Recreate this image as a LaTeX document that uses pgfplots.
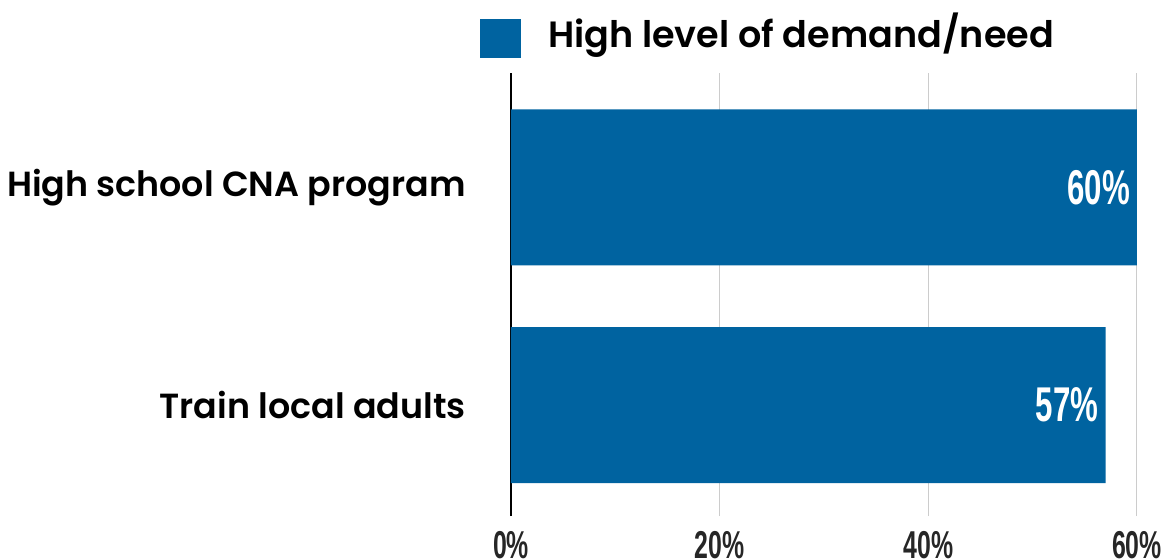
\documentclass[border=0pt]{standalone}
\usepackage{pgfplots}
\pgfplotsset{compat=1.18}
\usepackage{fontspec}
\setmainfont{Lato}
\newfontfamily\labfont{Poppins SemiBold}
\newfontfamily\numfont{Liberation Sans}
\definecolor{barblue}{RGB}{0,99,160}
\definecolor{tickgray}{RGB}{38,38,38}
\newcommand\cond[1]{\scalebox{0.64}[1]{#1}}
\begin{document}
\begin{tikzpicture}
\path[use as bounding box] (-511bp,-43bp) rectangle (654bp,516bp);
\begin{axis}[
  at={(0,0)}, anchor=south west,
  scale only axis, width=626bp, height=443bp,
  xbar, bar width=156bp,
  xmin=0, xmax=60, ymin=-0.510, ymax=1.526,
  ytick={0,1}, yticklabels={Train local adults, High school CNA program},
  xtick={0,20,40,60},
  xticklabels={\cond{0\%},\cond{20\%},\cond{40\%},\cond{60\%}},
  major tick length=0pt,
  xmajorgrids, grid style={draw=black!20, line width=1bp},
  axis lines*=left,
  x axis line style={draw=none},
  y axis line style={draw=black, line width=2bp, -},
  xticklabel style={anchor=north, inner sep=0pt, yshift=-15bp, text=tickgray,
    font=\fontsize{39}{39}\selectfont\numfont\bfseries},
  yticklabel style={anchor=east, inner sep=0pt, xshift=-45bp, text=black,
    font=\fontsize{35}{40}\selectfont\labfont},
  point meta=x,
  /pgf/number format/assume math mode=true,
  nodes near coords={\cond{\pgfmathprintnumber{\pgfplotspointmeta}\%}},
  nodes near coords style={anchor=east, xshift=-7bp, text=white, inner sep=0pt,
    font=\fontsize{49}{49}\selectfont\numfont\bfseries},
  legend image code/.code={\fill[barblue, draw=none] (0bp,-27bp) rectangle (41bp,12bp); \path[draw=none, fill=none] (0bp,0bp) rectangle (68bp,1bp);},
  legend style={draw=none, fill=none, inner sep=0pt, outer sep=0pt, column sep=0pt,
    nodes={inner sep=0pt, font=\fontsize{36.7}{36.7}\selectfont\labfont},
    at={(axis description cs:-0.0495,1.0847)}, anchor=west},
]
\addplot[fill=barblue, draw=none] coordinates {(57,0) (60,1)};
\addlegendentry{High level of demand/need}
\end{axis}
\end{tikzpicture}
\end{document}
